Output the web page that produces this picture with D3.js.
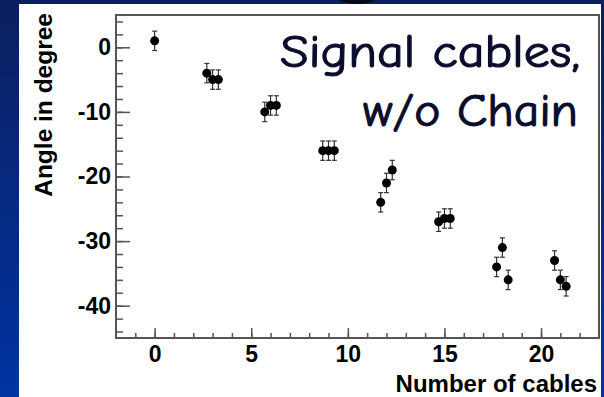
<!doctype html>
<html>
<head>
<meta charset="utf-8">
<script src="https://d3js.org/d3.v7.min.js"></script>
<style>
  body { margin: 0; background: #fff; }
  svg { display: block; }
  .axis text { font-family: "Liberation Sans", Arial, sans-serif; font-weight: bold; font-size: 23px; fill: #000; }
  .axis line { stroke: #555; stroke-width: 1.5; }
  .title { font-family: "Comic Sans MS", "Comic Neue", "DejaVu Sans", sans-serif; font-size: 46px; fill: #0b0d2c; stroke: #0b0d2c; stroke-width: 1.1; }
</style>
</head>
<body>
<script>
// number of cables vs measured angle
var cables = [0, 2.7, 3, 3.3, 5.7, 6, 6.3, 8.7, 9, 9.3, 11.7, 12, 12.3, 14.7, 15, 15.3, 17.7, 18, 18.3, 20.7, 21, 21.3];
var angles = [1, -4, -5, -5, -10, -9, -9, -16, -16, -16, -24, -21, -19, -27, -26.5, -26.5, -34, -31, -36, -33, -36, -37];
var errors = [1.5, 1.5, 1.5, 1.5, 1.5, 1.5, 1.5, 1.5, 1.5, 1.5, 1.5, 1.5, 1.5, 1.5, 1.5, 1.5, 1.5, 1.5, 1.5, 1.5, 1.5, 1.5];
var xTicks = [0, 5, 10, 15, 20];
var yTicks = [0, -10, -20, -30, -40];
var titleLines = ["Signal cables,", "w/o Chain"];

var W = 604, H = 397;
var plotL = 116, plotR = 599, plotT = 15, plotB = 338;

var svg = d3.select("body").append("svg").attr("width", W).attr("height", H);

var defs = svg.append("defs");
var grad = defs.append("linearGradient").attr("id", "side").attr("x1", 0).attr("y1", 0).attr("x2", 0).attr("y2", 1);
grad.append("stop").attr("offset", "0%").attr("stop-color", "#0b1f5e");
grad.append("stop").attr("offset", "100%").attr("stop-color", "#0034a2");

// slide background
svg.append("rect").attr("width", W).attr("height", H).attr("fill", "url(#side)");
svg.append("rect").attr("x", 19).attr("y", 4).attr("width", 582).attr("height", H - 4).attr("fill", "#fff");
svg.append("ellipse").attr("cx", 357).attr("cy", -3).attr("rx", 20).attr("ry", 7).attr("fill", "#05081a");

var x = d3.scaleLinear().domain([-2, 23]).range([plotL, plotR]);
var y = d3.scaleLinear().domain([-45, 5]).range([plotB, plotT]);
var plain = function(d) { return String(d); };

// minor ticks
svg.append("g").attr("class", "axis").attr("transform", "translate(" + plotL + ",0)")
  .call(d3.axisLeft(y).tickValues(d3.range(-44, 5, 2)).tickSize(-7).tickFormat(""))
  .call(function(g) { g.select(".domain").remove(); });
svg.append("g").attr("class", "axis").attr("transform", "translate(0," + plotB + ")")
  .call(d3.axisBottom(x).tickValues(d3.range(-1, 23, 1)).tickSize(-5).tickFormat(""))
  .call(function(g) { g.select(".domain").remove(); });

// major ticks
svg.append("g").attr("class", "axis").attr("transform", "translate(" + plotL + ",0)")
  .call(d3.axisLeft(y).tickValues(yTicks).tickSize(-14).tickPadding(5).tickFormat(plain))
  .call(function(g) { g.select(".domain").remove(); });
svg.append("g").attr("class", "axis").attr("transform", "translate(0," + plotB + ")")
  .call(d3.axisBottom(x).tickValues(xTicks).tickSize(-10).tickPadding(8).tickFormat(plain))
  .call(function(g) { g.select(".domain").remove(); });

// frame
svg.append("rect").attr("x", plotL).attr("y", plotT).attr("width", plotR - plotL).attr("height", plotB - plotT)
  .attr("fill", "none").attr("stroke", "#555").attr("stroke-width", 2);

// axis titles
svg.append("text")
  .attr("transform", "translate(52,13) rotate(-90)")
  .attr("text-anchor", "end")
  .style("font-family", "Liberation Sans, Arial, sans-serif").style("font-weight", "bold").style("font-size", "24.5px")
  .text("Angle in degree");
svg.append("text")
  .attr("x", 597).attr("y", 392).attr("text-anchor", "end")
  .style("font-family", "Liberation Sans, Arial, sans-serif").style("font-weight", "bold").style("font-size", "24px")
  .text("Number of cables");

// error bars and points
var pts = svg.append("g");
cables.forEach(function(c, i) {
  var cx = x(c), lo = y(angles[i] - errors[i]), hi = y(angles[i] + errors[i]);
  var g = pts.append("g").attr("stroke", "#333").attr("stroke-width", 1.2);
  g.append("line").attr("x1", cx).attr("x2", cx).attr("y1", lo).attr("y2", hi);
  g.append("line").attr("x1", cx - 2.5).attr("x2", cx + 2.5).attr("y1", lo).attr("y2", lo);
  g.append("line").attr("x1", cx - 2.5).attr("x2", cx + 2.5).attr("y1", hi).attr("y2", hi);
  pts.append("circle").attr("cx", cx).attr("cy", y(angles[i])).attr("r", 4.5).attr("fill", "#000");
});

// label in the plot
svg.append("text").attr("class", "title").attr("x", 580).attr("y", 67).attr("text-anchor", "end")
  .attr("textLength", 300).attr("lengthAdjust", "spacingAndGlyphs").text(titleLines[0]);
svg.append("text").attr("class", "title").attr("x", 578).attr("y", 126).attr("text-anchor", "end")
  .attr("textLength", 215).attr("lengthAdjust", "spacingAndGlyphs").text(titleLines[1]);
</script>
</body>
</html>
